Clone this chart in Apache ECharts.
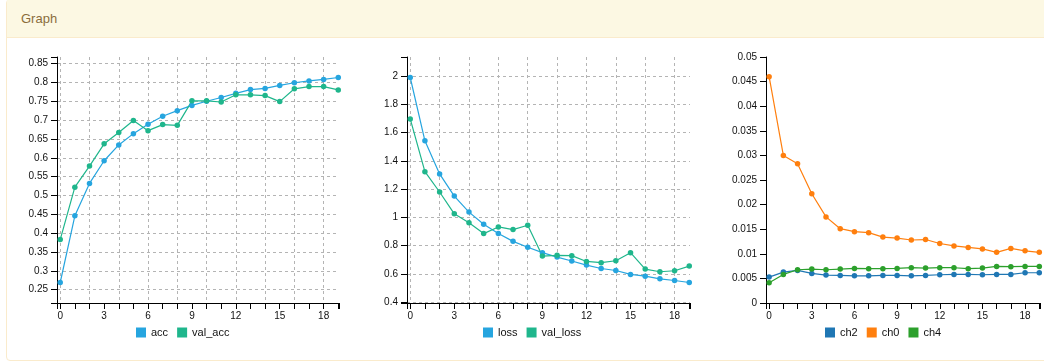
<!DOCTYPE html>
<html>
<head>
<meta charset="utf-8">
<script src="https://cdn.jsdelivr.net/npm/echarts@6/dist/echarts.min.js"></script>
<style>
  html, body { margin: 0; padding: 0; width: 1044px; height: 364px; overflow: hidden; background: #fff; font-family: "Liberation Sans", Arial, sans-serif; }
  #panel { position: absolute; left: 6px; top: -1px; width: 1100px; height: 362px; border: 1px solid #faebcc; border-radius: 4px; box-sizing: border-box; background: #fff; }
  #head { height: 38px; background: #fcf8e3; border-bottom: 1px solid #faebcc; box-sizing: border-box; color: #8a6d3b; font-size: 13px; line-height: 38px; padding-left: 14px; }
  #chart { position: absolute; left: 0; top: 0; width: 1044px; height: 364px; }
</style>
</head>
<body>
<div id="panel"><div id="head">Graph</div></div>
<div id="chart"></div>
<script>
// ---- data ----
const epochs = [0,1,2,3,4,5,6,7,8,9,10,11,12,13,14,15,16,17,18,19];
const acc     = [0.269,0.446,0.532,0.592,0.634,0.664,0.689,0.710,0.725,0.739,0.750,0.760,0.771,0.781,0.784,0.792,0.799,0.804,0.808,0.813];
const valAcc  = [0.383,0.522,0.578,0.637,0.667,0.699,0.672,0.688,0.686,0.751,0.751,0.748,0.767,0.767,0.765,0.749,0.783,0.789,0.789,0.780];
const loss    = [1.990,1.542,1.308,1.151,1.038,0.952,0.886,0.831,0.789,0.751,0.720,0.692,0.663,0.639,0.625,0.597,0.585,0.566,0.554,0.540];
const valLoss = [1.697,1.324,1.180,1.026,0.962,0.886,0.933,0.914,0.945,0.727,0.732,0.730,0.689,0.680,0.694,0.751,0.635,0.616,0.623,0.656];
const ch2 = [0.00526,0.00628,0.00663,0.00601,0.00567,0.00560,0.00553,0.00553,0.00560,0.00560,0.00553,0.00560,0.00574,0.00581,0.00581,0.00574,0.00581,0.00581,0.00615,0.00615];
const ch0 = [0.0460,0.0300,0.0283,0.0222,0.0175,0.0151,0.0145,0.0143,0.0134,0.0132,0.0128,0.0129,0.0121,0.0116,0.0113,0.0110,0.0103,0.0111,0.0106,0.0103];
const ch4 = [0.0041,0.00581,0.00676,0.0069,0.00676,0.0069,0.00703,0.00697,0.00697,0.00703,0.00717,0.0071,0.00717,0.00717,0.00697,0.0071,0.00744,0.00738,0.00744,0.00744];

const xTickLabels = [0,3,6,9,12,15,18];
const xGridLines  = [0,2,4,6,8,10,12,14,16,18];
const yTicks1 = [0.25,0.3,0.35,0.4,0.45,0.5,0.55,0.6,0.65,0.7,0.75,0.8,0.85];
const yTicks2 = [0.4,0.6,0.8,1,1.2,1.4,1.6,1.8,2];
const yTicks3 = [0,0.005,0.01,0.015,0.02,0.025,0.03,0.035,0.04,0.045,0.05];

const names1 = ['acc','val_acc'];
const names2 = ['loss','val_loss'];
const names3 = ['ch2','ch0','ch4'];
const colors1 = ['#26a5df','#1fb68c'];
const colors3 = ['#1f77b4','#ff7f0e','#2ca02c'];

// ---- build ----
const X_MIN = -0.22, X_MAX = 19.05;
function padded(arrs) {
  const all = [].concat(...arrs);
  const mn = Math.min(...all), mx = Math.max(...all), r = mx - mn;
  return [mn - r * 0.1, mx + r * 0.1];
}
const d1 = padded([acc, valAcc]);
const d2 = padded([loss, valLoss]);
const d3 = [0, 0.05];

const grids = [
  { left: 57,  top: 57, width: 282, height: 246 },
  { left: 407, top: 57, width: 283, height: 246 },
  { left: 766, top: 57, width: 274, height: 246 }
];
const gridStyle = { color: '#b4b4b4', width: 1, type: [3, 3] };
const txt = { color: '#111', fontSize: 10, fontFamily: 'Liberation Sans, Arial, sans-serif' };

const xAxes = [], yAxes = [];
const yDoms = [d1, d2, d3];
const yTicks = [yTicks1, yTicks2, yTicks3];
for (let g = 0; g < 3; g++) {
  const dom = yDoms[g];
  xAxes.push({
    gridIndex: g, type: 'value', min: X_MIN, max: X_MAX, position: 'bottom',
    axisLine: { show: true, onZero: false, lineStyle: { color: '#000', width: 1 } },
    axisTick: { show: true, length: 6, inside: false, customValues: [X_MIN].concat(epochs, [X_MAX]), lineStyle: { color: '#000' } },
    axisLabel: Object.assign({ show: true, margin: 8, customValues: xTickLabels, hideOverlap: false }, txt),
    splitLine: { show: false }
  });
  yAxes.push({
    gridIndex: g, type: 'value', min: dom[0], max: dom[1], position: 'left',
    axisLine: { show: true, onZero: false, lineStyle: { color: '#000', width: 1 } },
    axisTick: { show: true, length: 6, customValues: [dom[0]].concat(yTicks[g], [dom[1]]), lineStyle: { color: '#000' } },
    axisLabel: Object.assign({ show: true, margin: 9, customValues: yTicks[g], hideOverlap: false }, txt),
    splitLine: { show: false }
  });
}
// hidden axes for dashed grid lines
for (let g = 0; g < 2; g++) {
  const dom = yDoms[g];
  xAxes.push({
    gridIndex: g, type: 'value', min: X_MIN, max: X_MAX, position: 'top',
    axisLine: { show: false }, axisLabel: { show: false },
    axisTick: { show: false, customValues: xGridLines },
    splitLine: { show: true, lineStyle: gridStyle }
  });
  yAxes.push({
    gridIndex: g, type: 'value', min: dom[0], max: dom[1], position: 'right',
    axisLine: { show: false }, axisLabel: { show: false },
    axisTick: { show: false, customValues: yTicks[g] },
    splitLine: { show: true, lineStyle: gridStyle }
  });
}

function mk(name, vals, color, g) {
  return {
    name: name, type: 'line', xAxisIndex: g, yAxisIndex: g,
    data: epochs.map((e, i) => [e, vals[i]]),
    symbol: 'circle', symbolSize: 5.5, showSymbol: true,
    lineStyle: { width: 1.2, color: color }, itemStyle: { color: color },
    emphasis: { disabled: true }, z: 3
  };
}
const series = [
  mk(names1[0], acc, colors1[0], 0), mk(names1[1], valAcc, colors1[1], 0),
  mk(names2[0], loss, colors1[0], 1), mk(names2[1], valLoss, colors1[1], 1),
  mk(names3[0], ch2, colors3[0], 2), mk(names3[1], ch0, colors3[1], 2), mk(names3[2], ch4, colors3[2], 2)
];
const legTxt = { color: '#111', fontSize: 11, fontFamily: 'Liberation Sans, Arial, sans-serif' };
function leg(names, left) {
  return { data: names.map(n => ({ name: n, icon: 'rect' })), left: left, top: 327, itemWidth: 10, itemHeight: 10,
    itemGap: 9, padding: 0, textStyle: legTxt, selectedMode: false };
}
const chart = echarts.init(document.getElementById('chart'), null, { renderer: 'canvas' });
chart.setOption({
  animation: false,
  grid: grids,
  xAxis: xAxes,
  yAxis: yAxes,
  legend: [leg(names1, 136), leg(names2, 483), leg(names3, 825)],
  series: series
});
</script>
</body>
</html>
